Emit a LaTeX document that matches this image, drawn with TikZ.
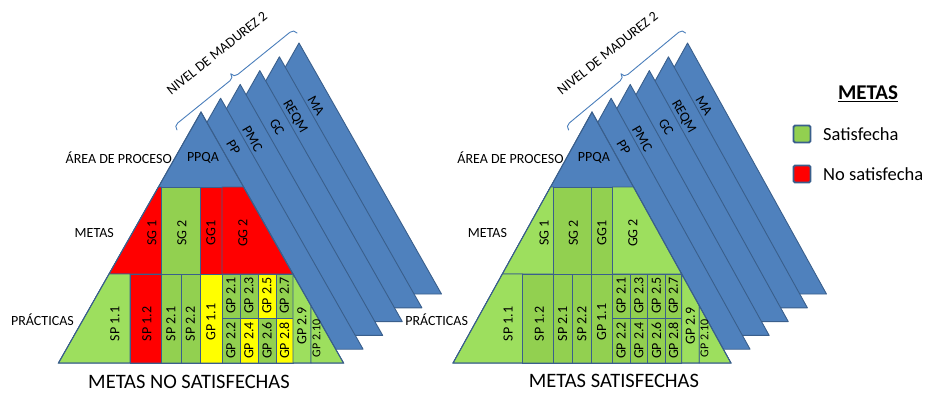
\documentclass[tikz,border=0pt]{standalone}
\usepackage{fontspec}
\setmainfont{Carlito}
\definecolor{bfill}{HTML}{4F81BD}
\definecolor{bline}{HTML}{3A5F8C}
\definecolor{brc}{HTML}{4A7EBB}
\definecolor{gl}{HTML}{9DDF5E}
\definecolor{gr}{HTML}{92D050}
\definecolor{rd}{HTML}{FF0000}
\definecolor{yl}{HTML}{FFFF00}
\newcommand{\myfs}[1]{\fontsize{#1}{#1}\selectfont}
\tikzset{
  bluetri/.style={fill=bfill, draw=bline, line width=0.9pt, line join=round},
  cell/.style={draw=bline, line width=0.9pt},
  celltext/.style={rotate=90, font=\myfs{14}, inner sep=0pt},
  smalltext/.style={rotate=90, font=\myfs{12}, inner sep=0pt},
  bluelabel/.style={rotate=-60, font=\myfs{14}, inner sep=0pt},
  sidelabel/.style={anchor=east, font=\myfs{14}, inner sep=0pt},
  title/.style={font=\myfs{20.5}, inner sep=0pt},
  bracestyle/.style={brc, line width=0.9pt, line cap=round, line join=round},
}
\newcommand{\pyramid}{%
  \foreach \k in {5,4,3,2,1} {
    \filldraw[bluetri, shift={(19.6*\k,-13.8*\k)}] (0,0) -- (-142.5,251) -- (142.5,251) -- cycle;
  }
  \filldraw[bluetri] (0,0) -- (-142.5,251) -- (142.5,251) -- cycle;
  % metas row
  \filldraw[cell, fill=cSGa] (-42.58,75) -- (-39.5,75) -- (-39.5,162) -- (-91.97,162) -- cycle;
  \filldraw[cell, fill=cSGb] (-39.5,75) rectangle (-1,162);
  \filldraw[cell, fill=cGGa] (-1,75) rectangle (21,162);
  \filldraw[cell, fill=cGGb] (21,75) -- (42.58,75) -- (91.97,162) -- (21,162) -- cycle;
  % practicas row
  \filldraw[cell, fill=cSPaa] (-91.97,162) -- (-71,162) -- (-71,251) -- (-142.5,251) -- cycle;
  \filldraw[cell, fill=cSPab] (-71,162) rectangle (-39.5,251);
  \filldraw[cell, fill=cSPba] (-39.5,162) rectangle (-20,251);
  \filldraw[cell, fill=cSPbb] (-20,162) rectangle (-1,251);
  \filldraw[cell, fill=cGPaa] (-1,162) rectangle (21,251);
  \filldraw[cell, fill=cGPa] (21,162) rectangle (39,206);
  \filldraw[cell, fill=cGPb] (21,206) rectangle (39,251);
  \filldraw[cell, fill=cGPc] (39,162) rectangle (57,206);
  \filldraw[cell, fill=cGPd] (39,206) rectangle (57,251);
  \filldraw[cell, fill=cGPe] (57,162) rectangle (75,206);
  \filldraw[cell, fill=cGPf] (57,206) rectangle (75,251);
  \filldraw[cell, fill=cGPg] (75,162) rectangle (92,206);
  \filldraw[cell, fill=cGPh] (75,206) rectangle (92,251);
  \filldraw[cell, fill=cGPi] (91.97,162) -- (92,251) -- (110,251) -- (110,193.75) -- cycle;
  \filldraw[cell, fill=cGPj] (110,193.75) -- (110,251) -- (142.5,251) -- cycle;
  \draw[cell] (0,0) -- (-142.5,251) -- (142.5,251) -- cycle;
  % cell texts
  \node[celltext] (sg1) at (-49,121) {SG 1};
  \node[celltext] (sg2) at (-19,121) {SG 2};
  \node[celltext] (gg1) at (10,121) {GG1};
  \node[celltext] (gg2) at (42,121) {GG 2};
  \node[celltext] (sp11) at (-86,212) {SP 1.1};
  \node[celltext] (sp12) at (-54,212) {SP 1.2};
  \node[celltext] (sp21) at (-30,212) {SP 2.1};
  \node[celltext] (sp22) at (-10.5,212) {SP 2.2};
  \node[celltext] (gp11) at (10,210) {GP 1.1};
  \node[celltext] (gp21) at (30,183.5) {GP 2.1};
  \node[celltext] (gp22) at (30,228.5) {GP 2.2};
  \node[celltext] (gp23) at (48,183.5) {GP 2.3};
  \node[celltext] (gp24) at (48,228.5) {GP 2.4};
  \node[celltext] (gp25) at (66,183.5) {GP 2.5};
  \node[celltext] (gp26) at (66,228.5) {GP 2.6};
  \node[celltext] (gp27) at (83.5,183.5) {GP 2.7};
  \node[celltext] (gp28) at (83.5,228.5) {GP 2.8};
  \node[celltext] (gp29) at (101,214) {GP 2.9};
  \node[smalltext] (gp210) at (115.5,226.5) {GP 2.10};
  % area labels
  \node[font=\myfs{14}, inner sep=0pt] (ppqa) at (2,46) {PPQA};
  \node[bluelabel] (pp) at (32.5,35.3) {PP};
  \node[bluelabel] (pmc) at (51.5,27) {PMC};
  \node[bluelabel] (gc) at (76,15) {GC};
  \node[bluelabel] (reqm) at (94,5) {REQM};
  \node[bluelabel] (ma) at (115,-6.3) {MA};
  \node[sidelabel] (area) at (-29,46) {ÁREA DE PROCESO};
  \node[sidelabel] (metas) at (-87,121) {METAS};
  \node[sidelabel] (prac) at (-127,208) {PRÁCTICAS};
  % brace (tip pointing up-left, ends toward the triangles)
  \coordinate (b1) at (-24,18);
  \coordinate (b2) at (96,-79);
  \coordinate (btip) at (29.71,-38.28);
  \draw[bracestyle] (b1) .. controls (-25.89,15.67) and (-25.59,12.85) .. (-23.26,10.97)
     -- (28.97,-31.25) .. controls (31.30,-33.14) and (31.60,-35.95) .. (btip)
     .. controls (31.60,-35.95) and (34.41,-35.65) .. (36.75,-37.54)
     -- (88.97,-79.75) .. controls (91.30,-81.64) and (94.11,-81.34) .. (b2);
  \node[rotate=38.5, font=\myfs{14}, inner sep=0pt] (nivel) at (16,-59) {NIVEL DE MADUREZ 2};
}
\begin{document}
\begin{tikzpicture}[x=1pt, y=-1pt]
\useasboundingbox (0,0) rectangle (941,392);
\begin{scope}[shift={(201,112)}, name prefix=L-]
  \colorlet{cSGa}{rd}\colorlet{cSGb}{gr}\colorlet{cGGa}{rd}\colorlet{cGGb}{rd}
  \colorlet{cSPaa}{gl}\colorlet{cSPab}{rd}\colorlet{cSPba}{gr}\colorlet{cSPbb}{gr}
  \colorlet{cGPaa}{yl}
  \colorlet{cGPa}{gr}\colorlet{cGPb}{gr}\colorlet{cGPc}{gr}\colorlet{cGPd}{yl}
  \colorlet{cGPe}{yl}\colorlet{cGPf}{gr}\colorlet{cGPg}{gr}\colorlet{cGPh}{yl}
  \colorlet{cGPi}{gl}\colorlet{cGPj}{gl}
  \pyramid
\end{scope}
\begin{scope}[shift={(592,112)}, xscale=0.975, name prefix=R-]
  \colorlet{cSGa}{gl}\colorlet{cSGb}{gr}\colorlet{cGGa}{gr}\colorlet{cGGb}{gl}
  \colorlet{cSPaa}{gl}\colorlet{cSPab}{gr}\colorlet{cSPba}{gr}\colorlet{cSPbb}{gr}
  \colorlet{cGPaa}{gr}
  \colorlet{cGPa}{gr}\colorlet{cGPb}{gr}\colorlet{cGPc}{gr}\colorlet{cGPd}{gr}
  \colorlet{cGPe}{gr}\colorlet{cGPf}{gr}\colorlet{cGPg}{gr}\colorlet{cGPh}{gr}
  \colorlet{cGPi}{gl}\colorlet{cGPj}{gl}
  \pyramid
\end{scope}
\node[title] (t1) at (189,382) {METAS NO SATISFECHAS};
\node[title] (t2) at (614,381) {METAS SATISFECHAS};
% legend
\node[font=\bfseries\myfs{21}, inner sep=0pt] (lt) at (868,94) {\underline{METAS}};
\node[draw=bline, line width=1.8pt, fill=gr, rounded corners=1.5pt, minimum size=17pt, inner sep=0pt] (sq1) at (802,134) {};
\node[draw=bline, line width=1.8pt, fill=rd, rounded corners=1.5pt, minimum size=17pt, inner sep=0pt] (sq2) at (802,174) {};
\node[anchor=west, font=\myfs{18.5}, inner sep=0pt] (l1) at (823,134) {Satisfecha};
\node[anchor=west, font=\myfs{18.5}, inner sep=0pt] (l2) at (823,174) {No satisfecha};
\end{tikzpicture}
\end{document}
